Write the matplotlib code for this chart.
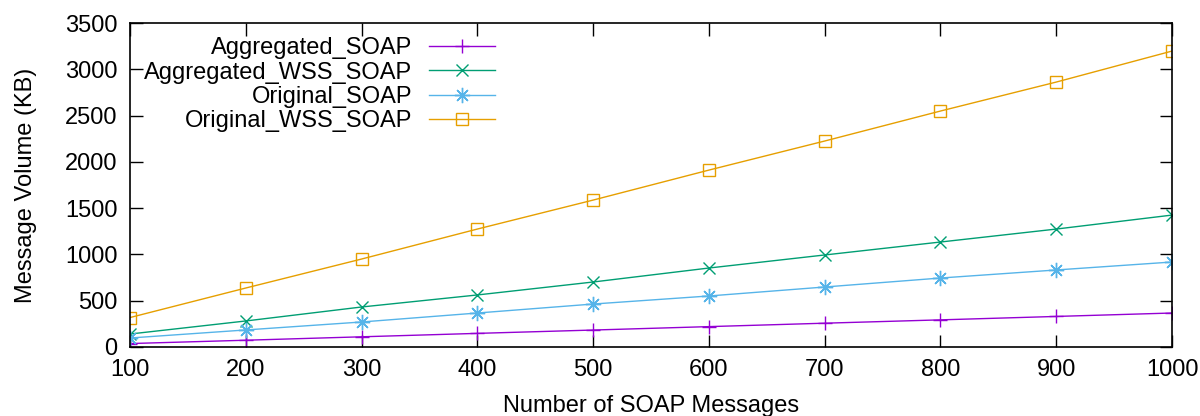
import matplotlib
matplotlib.use('Agg')
import matplotlib.pyplot as plt

plt.rcParams['font.family'] = ['Liberation Sans', 'DejaVu Sans']

# number of messages on the x axis
messages = [100, 200, 300, 400, 500, 600, 700, 800, 900, 1000]

# message volume in KB
aggregated_soap = [37, 73, 110, 147, 183, 220, 257, 293, 330, 367]
aggregated_wss_soap = [140, 281, 432, 562, 702, 853, 994, 1134, 1274, 1425]
original_soap = [97, 184, 270, 367, 464, 551, 648, 745, 832, 918]
original_wss_soap = [318, 637, 950, 1274, 1587, 1911, 2225, 2549, 2862, 3197]

fig = plt.figure(figsize=(12, 4.16), dpi=100)
ax = fig.add_axes([0.1083, 0.1659, 0.8684, 0.7788])

ax.plot(messages, aggregated_soap, color='#9400d3', marker='+', markersize=10, lw=1,
        label='Aggregated_SOAP')
ax.plot(messages, aggregated_wss_soap, color='#009e73', marker='x', markersize=9, lw=1,
        label='Aggregated_WSS_SOAP')
ax.plot(messages, original_soap, color='#56b4e9', marker=(8, 2, 0), markersize=11, lw=1,
        label='Original_SOAP')
ax.plot(messages, original_wss_soap, color='#e69f00', marker='s', markersize=9, lw=1,
        markerfacecolor='none', label='Original_WSS_SOAP')

ax.set_xlim(100, 1000)
ax.set_ylim(0, 3500)
ax.set_xticks(messages)
ax.set_yticks(range(0, 3501, 500))
ax.tick_params(direction='in', length=9, width=1, top=True, right=True,
               labelsize=17, pad=9)
for s in ax.spines.values():
    s.set_linewidth(1.2)

ax.set_xlabel('Number of SOAP Messages', fontsize=17, labelpad=10)
ax.set_ylabel('Message Volume (KB)', fontsize=17, labelpad=20)

ax.legend(loc='upper left', bbox_to_anchor=(0.0, 1.0), markerfirst=False, frameon=False,
          fontsize=17, labelspacing=0.1, handlelength=2.8, handletextpad=0.7,
          borderaxespad=0.2)

fig.savefig('out.png', dpi=100)
